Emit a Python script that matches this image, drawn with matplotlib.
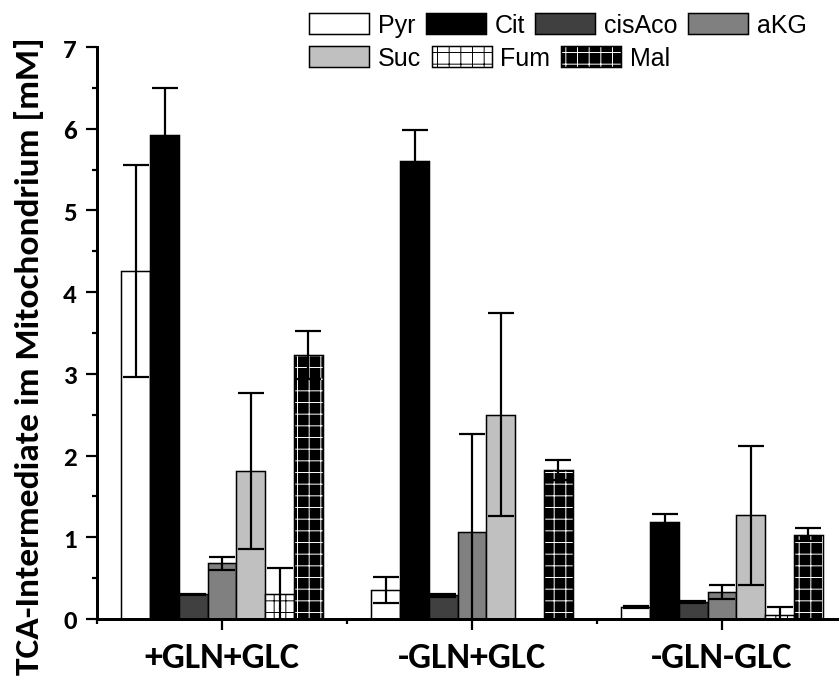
import numpy as np
import matplotlib
matplotlib.use("Agg")
import matplotlib.pyplot as plt
from matplotlib.patches import Patch
from matplotlib.ticker import MultipleLocator, FixedLocator

# ---- data (mM) -------------------------------------------------------------
conditions = ["+GLN+GLC", "-GLN+GLC", "-GLN-GLC"]
metabolites = ["Pyr", "Cit", "cisAco", "aKG", "Suc", "Fum", "Mal"]

pyr = [4.26, 0.35, 0.15]
pyr_err = [1.30, 0.16, 0.01]
cit = [5.92, 5.61, 1.19]
cit_err = [0.58, 0.38, 0.09]
cisaco = [0.30, 0.29, 0.21]
cisaco_err = [0.01, 0.02, 0.01]
akg = [0.68, 1.06, 0.33]
akg_err = [0.08, 1.21, 0.08]
suc = [1.81, 2.50, 1.27]
suc_err = [0.95, 1.24, 0.85]
fum = [0.30, np.nan, 0.05]
fum_err = [0.32, np.nan, 0.10]
mal = [3.23, 1.82, 1.03]
mal_err = [0.29, 0.12, 0.08]

values = [pyr, cit, cisaco, akg, suc, fum, mal]
errors = [pyr_err, cit_err, cisaco_err, akg_err, suc_err, fum_err, mal_err]

# ---- figure geometry (pixels at 70 dpi) -------------------------------------
DPI = 70
W, H = 839, 682
PT = 72 / DPI  # points per pixel

fig = plt.figure(figsize=(W / DPI, H / DPI), dpi=DPI)
ax = fig.add_axes([97 / W, 62 / H, 750 / W, 572 / H])

BAR_W = 0.115
EDGE = 1.5 * PT
face = ["white", "black", "#404040", "#808080", "#c0c0c0", "white", "black"]
hatched = [False, False, False, False, False, True, True]

x0 = np.arange(len(conditions))
for i, (vals, errs) in enumerate(zip(values, errors)):
    x = x0 + (i - 3) * BAR_W
    if hatched[i] and face[i] == "black":
        # black bar with a white grid, outlined in black
        ax.bar(x, vals, BAR_W, color="black", edgecolor="white", hatch="+",
               linewidth=0, zorder=2)
        ax.bar(x, vals, BAR_W, fill=False, edgecolor="black",
               linewidth=EDGE, zorder=2.1)
    elif hatched[i]:
        ax.bar(x, vals, BAR_W, color="white", edgecolor="black", hatch="+",
               linewidth=EDGE, zorder=2)
    else:
        ax.bar(x, vals, BAR_W, color=face[i], edgecolor="black",
               linewidth=EDGE, zorder=2)
    ax.errorbar(x, vals, yerr=errs, fmt="none", ecolor="black",
                elinewidth=2.2 * PT, capsize=13 * PT, capthick=2.2 * PT, zorder=3)

# ---- axes ------------------------------------------------------------------
ax.set_xlim(-0.5, 2.5)
ax.set_ylim(0, 7)
for side in ("top", "right"):
    ax.spines[side].set_visible(False)
for side in ("left", "bottom"):
    ax.spines[side].set_linewidth(3 * PT)

ax.set_yticks(range(8))
ax.yaxis.set_minor_locator(MultipleLocator(0.5))
ax.set_xticks(x0)
ax.xaxis.set_minor_locator(FixedLocator([-0.5, 0.5, 1.5, 2.5]))

tick_font = {"family": "Carlito", "weight": "bold"}
ax.set_yticklabels([str(v) for v in range(8)], fontdict=tick_font,
                   fontsize=27 * PT)
ax.set_xticklabels(conditions, fontdict=tick_font, fontsize=36 * PT)

ax.tick_params(axis="both", which="major", direction="out",
               length=11 * PT, width=2.2 * PT)
ax.tick_params(axis="both", which="minor", direction="out",
               length=5.5 * PT, width=2.2 * PT)
ax.tick_params(axis="y", which="major", pad=9 * PT)
ax.tick_params(axis="x", which="major", pad=11 * PT)

ax.set_ylabel("TCA-Intermediate im Mitochondrium [mM]", family="Carlito",
              weight="bold", fontsize=35.5 * PT, va="center", ha="center")
ax.yaxis.set_label_coords((29.5 - 97) / 750, (620 - 356) / 572)

# ---- legend: two rows laid out side by side --------------------------------
def handle(i):
    if hatched[i] and face[i] == "black":
        return (Patch(facecolor="black", edgecolor="white", hatch="+", linewidth=0),
                Patch(fill=False, edgecolor="black", linewidth=EDGE))
    if hatched[i]:
        return Patch(facecolor="white", edgecolor="black", hatch="+", linewidth=EDGE)
    return Patch(facecolor=face[i], edgecolor="black", linewidth=EDGE)

handles = [handle(i) for i in range(len(metabolites))]
LEG_FS = 25
leg_kw = dict(loc="center left", bbox_transform=fig.transFigure, frameon=False,
              borderpad=0, borderaxespad=0, handlelength=60 / LEG_FS,
              handleheight=22 / LEG_FS, handletextpad=0.35, columnspacing=0.42,
              prop={"family": "Liberation Sans", "size": LEG_FS * PT})
fig.legend(handles[:4], metabolites[:4], ncol=4,
           bbox_to_anchor=(309 / W, 1 - 26 / H), **leg_kw)
fig.legend(handles[4:], metabolites[4:], ncol=3,
           bbox_to_anchor=(309 / W, 1 - 59 / H), **leg_kw)

fig.savefig("out.png", dpi=DPI)
